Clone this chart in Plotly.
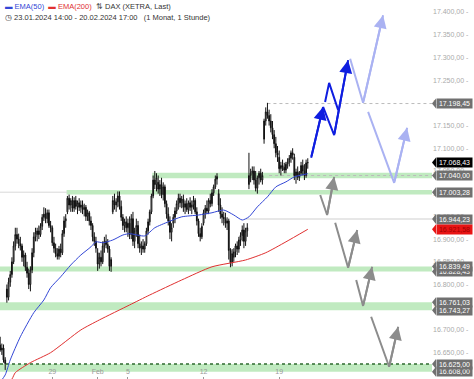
import plotly.graph_objects as go

# ---------------- data ----------------
open_ = [16667,16656,16660,16634,
16790,16772,16805,16822,16850,16885,16910,16900,16890,
16885,16860,16865,16838,16825,16800,16832,16870,16905,
16910,16918,16910,16928,16948,16955,16945,16958,16930,
16925,16892,16880,16868,16862,16878,16870,16912,16940,
16960,16990,16975,16985,16968,16985,16972,16980,16970,
16975,16965,16970,16950,16958,16940,16930,16905,16895,
16870,16845,16860,16850,16885,16895,16888,16878,16840,
16960,16985,16975,16982,16995,16972,16948,16930,16938,
16925,16935,16910,16945,16895,16918,16930,16890,16880,
16885,16878,16890,16918,16938,16960,16995,17030,17020,
17025,17010,17020,16998,17015,16978,16955,16940,16915,
16935,16948,16962,16978,16990,16980,16988,16970,16978,
16965,16980,16970,16975,16985,16960,16940,16912,16905,
16935,16958,16968,16962,16985,16978,17002,17015,17032,
17000,16975,16955,16948,16945,16935,16940,16875,16848,
16860,16872,16885,16878,16898,16908,16920,16895,16918,
17020,17040,17045,17050,17030,17012,17035,17045,17030,
17120,17160,17180,17172,17160,17145,17130,17110,17090,
17080,17055,17062,17058,17052,17065,17070,17078,17090,
17080,17040,17048,17036,17045,17062,17050,17040,17068]
high = [16685,16670,16668,16640,
16800,16815,16830,16860,16895,16925,16925,16912,16905,
16890,16875,16870,16850,16835,16840,16880,16915,16925,
16925,16930,16935,16955,16970,16968,16965,16965,16940,
16930,16905,16890,16880,16885,16890,16920,16950,16955,
16995,16998,16990,16995,16992,16995,16985,16990,16985,
16985,16978,16975,16965,16962,16950,16935,16915,16905,
16880,16870,16875,16895,16905,16910,16900,16885,16860,
16995,17000,16990,17005,17005,16985,16955,16945,16950,
16945,16950,16955,16960,16925,16945,16940,16910,16895,
16900,16895,16925,16945,16965,17000,17040,17050,17045,
17040,17030,17035,17025,17020,16985,16970,16950,16935,
16955,16970,16985,17000,17000,16995,16998,16985,16990,
16985,16992,16985,16995,16990,16970,16945,16925,16935,
16965,16975,16985,16990,17000,17010,17020,17040,17045,
17010,16990,16970,16960,16958,16948,16945,16880,16878,
16880,16890,16895,16905,16915,16930,16935,16925,16935,
17090,17055,17060,17060,17050,17040,17050,17055,17048,
17165,17190,17200,17185,17175,17160,17140,17125,17105,
17095,17070,17075,17068,17070,17078,17085,17095,17100,
17088,17055,17060,17050,17070,17075,17065,17075,17078]
low = [16652,16645,16628,16612,
16760,16765,16795,16815,16845,16875,16890,16880,16875,
16850,16840,16830,16815,16790,16785,16825,16860,16895,
16895,16900,16905,16920,16940,16935,16935,16925,16915,
16885,16870,16860,16855,16855,16860,16865,16905,16925,
16955,16965,16960,16960,16960,16965,16955,16962,16958,
16955,16950,16940,16940,16930,16920,16895,16885,16870,
16830,16835,16840,16845,16870,16880,16870,16830,16828,
16955,16965,16960,16970,16965,16940,16920,16915,16915,
16905,16900,16900,16885,16880,16905,16880,16870,16865,
16870,16870,16885,16910,16930,16955,16990,17010,17005,
17000,16995,16990,16985,16970,16945,16930,16900,16895,
16925,16935,16955,16965,16970,16968,16960,16955,16960,
16955,16962,16955,16965,16955,16930,16905,16895,16900,
16930,16945,16955,16955,16970,16972,16995,17010,17020,
16960,16945,16935,16930,16925,16920,16855,16838,16840,
16850,16860,16865,16870,16885,16895,16880,16885,16905,
17010,17025,17030,17020,17005,17000,17020,17025,17020,
17110,17150,17165,17150,17135,17120,17100,17080,17070,
17045,17040,17050,17045,17045,17055,17060,17068,17075,
17030,17022,17030,17028,17040,17040,17030,17035,17055]
close = [16656,16660,16634,16626,
16772,16805,16822,16850,16885,16910,16900,16890,16885,
16860,16865,16838,16825,16800,16832,16870,16905,16915,
16918,16910,16928,16948,16955,16945,16958,16930,16925,
16892,16880,16868,16862,16878,16870,16912,16940,16945,
16990,16975,16985,16968,16985,16972,16980,16970,16975,
16965,16970,16950,16958,16940,16930,16905,16895,16880,
16845,16860,16850,16885,16895,16888,16878,16840,16855,
16985,16975,16982,16995,16972,16948,16930,16938,16925,
16935,16910,16945,16895,16918,16930,16890,16880,16885,
16878,16890,16918,16938,16960,16995,17030,17020,17035,
17010,17020,16998,17015,16978,16955,16940,16915,16925,
16948,16962,16978,16990,16980,16988,16970,16978,16965,
16980,16970,16975,16985,16960,16940,16912,16905,16928,
16958,16968,16962,16985,16978,17002,17015,17032,17038,
16975,16955,16948,16945,16935,16940,16875,16848,16868,
16872,16885,16878,16898,16908,16920,16895,16918,16925,
17040,17045,17050,17030,17012,17035,17045,17030,17040,
17160,17180,17172,17160,17145,17130,17110,17090,17085,
17055,17062,17058,17052,17065,17070,17078,17090,17085,
17040,17048,17036,17045,17062,17050,17040,17068,17068.43]
candle_x = list(range(len(close)))

ema50_x = [0,3,6,12,20,26,30,36,42,48,54,57,61,67,73,77,86,92,100,108,118,126,133,139,144,148,153,159,164,170,175,183]
ema50_y = [16585,16601,16634,16685,16738,16766,16793,16817,16843,16865,16883,16894,16892,16898,16909,16912,16907,16925,16938,16949,16953,16958,16964,16953,16942,16949,16971,16993,17015,17026,17037,17044]
ema200_x = [0,7,9,18,30,48,59,77,89,108,126,146,158,170,183]
ema200_y = [16570,16592,16606,16628,16650,16700,16722,16755,16777,16810,16839,16854,16870,16894,16921.58]

tick_pos = [31, 58, 76, 121, 166]
tick_text = ["29", "Feb", "5", "12", "19"]
y_ticks = [16600 + 50 * i for i in range(17)]

# support / resistance levels
band_lo = [17034, 16998, 16828.43, 16743.27, 16608.0]
band_hi = [17046, 17008, 16839.49, 16761.03, 16625.0]
band_start = [91, 40, 0, 0, 0]

# projection paths (x = candle index, y = price)
dark_paths = [([185.0, 192.1], [17079, 17191]),
              ([192.1, 198.7, 207.0], [17191, 17129, 17294]),
              ([193.3, 195.7, 201.1], [17202, 17244, 17184])]
dark_arrow = [True, True, False]
light_paths = [([208.2, 215.9, 227.8], [17297, 17200, 17393]),
               ([218.9, 234.4, 242.1], [17180, 17024, 17145])]
grey_paths = [([190.4, 194.5, 198.7], [16997, 16953, 17037]),
              ([199.3, 207.0, 212.4], [16936, 16837, 16920]),
              ([211.8, 215.9, 221.3], [16810, 16753, 16839]),
              ([220.7, 231.4, 236.8], [16729, 16619, 16707])]

# right-side value labels: (value, text, bg, fg)
value_labels = [
    (16608.00, "16.608,00", "#707070", "white"),
    (16625.00, "16.625,00", "#707070", "white"),
    (16743.27, "16.743,27", "#707070", "white"),
    (16761.03, "16.761,03", "#707070", "white"),
    (16828.43, "16.828,43", "#707070", "white"),
    (16839.49, "16.839,49", "#707070", "white"),
    (16944.23, "16.944,23", "#707070", "white"),
    (16921.58, "16.921,58", "#e81414", "#a00000"),
    (17003.28, "17.003,28", "#707070", "white"),
    (17040.00, "17.040,00", "#707070", "white"),
    (17068.43, "17.068,43", "#000000", "white"),
    (17198.45, "17.198,45", "#707070", "white"),
]

X_MIN, X_MAX = -0.1, 256.9
Y_MIN, Y_MAX = 16592.0, 17426.4
FONT = "Liberation Sans, Arial, sans-serif"

fig = go.Figure()

# bands
shapes = []
for lo, hi, st in zip(band_lo, band_hi, band_start):
    shapes.append(dict(type="rect", xref="x", yref="y", x0=st - 0.5, x1=X_MAX, y0=lo, y1=hi,
                       fillcolor="rgba(150,220,150,0.6)", line=dict(width=0), layer="below"))
shapes.append(dict(type="line", xref="x", yref="y", x0=X_MIN, x1=40, y0=17003.28, y1=17003.28,
                   line=dict(color="#d8d8d8", width=1), layer="below"))
shapes.append(dict(type="line", xref="x", yref="y", x0=146, x1=X_MAX, y0=16944.23, y1=16944.23,
                   line=dict(color="#cfcfcf", width=1), layer="below"))
shapes.append(dict(type="line", xref="x", yref="y", x0=159, x1=X_MAX, y0=17198.45, y1=17198.45,
                   line=dict(color="#bbbbbb", width=1, dash="dot"), layer="below"))
shapes.append(dict(type="line", xref="x", yref="y", x0=160, x1=X_MAX, y0=17040, y1=17040,
                   line=dict(color="#bbbbbb", width=1, dash="dot"), layer="below"))
shapes.append(dict(type="line", xref="x", yref="y", x0=X_MIN, x1=X_MAX, y0=16625, y1=16625,
                   line=dict(color="#2f6b2f", width=1.5, dash="dot"), layer="below"))

# candles
fig.add_trace(go.Candlestick(
    x=candle_x, open=open_, high=high, low=low, close=close,
    increasing=dict(line=dict(color="#111111", width=1), fillcolor="#ffffff"),
    decreasing=dict(line=dict(color="#111111", width=1), fillcolor="#111111"),
    whiskerwidth=0, showlegend=False, hoverinfo="skip"))

fig.add_trace(go.Scatter(x=ema50_x, y=ema50_y, mode="lines", line=dict(color="#3347d6", width=1, shape="spline", smoothing=0.6),
                         showlegend=False, hoverinfo="skip"))
fig.add_trace(go.Scatter(x=ema200_x, y=ema200_y, mode="lines", line=dict(color="#e03030", width=1, shape="spline", smoothing=0.6),
                         showlegend=False, hoverinfo="skip"))

annotations = []

def add_path(px, py, color, arrow=True):
    fig.add_trace(go.Scatter(x=px, y=py, mode="lines", line=dict(color=color, width=2),
                             showlegend=False, hoverinfo="skip"))
    if arrow:
        annotations.append(dict(x=px[-1], y=py[-1], ax=px[-2], ay=py[-2], xref="x", yref="y",
                                axref="x", ayref="y", showarrow=True, arrowhead=2, arrowsize=1.3,
                                arrowwidth=2, arrowcolor=color, text=""))

for (px, py) in grey_paths:
    add_path(px, py, "#8c8c8c")
for (px, py) in light_paths:
    add_path(px, py, "#aab2f2")
for (px, py), a in zip(dark_paths, dark_arrow):
    add_path(px, py, "#0f1ee0", a)

# right-side value boxes
tri_w = 4 / 432
half = 5 / 0.4543
for v, t, bg, fg in value_labels:
    shapes.append(dict(type="path", xref="paper", yref="y",
                       path=f"M 1,{v} L {1 + tri_w},{v + half} L {1 + tri_w},{v - half} Z",
                       fillcolor=bg, line=dict(width=0), layer="above"))
    annotations.append(dict(x=1, y=v, xref="paper", yref="y", xanchor="left", yanchor="middle",
                            xshift=4, text=t, showarrow=False, bgcolor=bg, borderpad=1, width=33,
                            font=dict(family=FONT, size=7, color=fg)))

# header
annotations.append(dict(x=0.008, y=0.984, xref="paper", yref="paper", xanchor="left", yanchor="middle",
                        showarrow=False, align="left",
                        text="<span style='color:#3347d6'>▬ EMA(50)</span>  <span style='color:#e03030'>▬ EMA(200)</span>  "
                             "<span style='color:#555'>⇅</span> DAX (XETRA, Last)",
                        font=dict(family=FONT, size=7.5, color="#333333")))
annotations.append(dict(x=0.008, y=0.955, xref="paper", yref="paper", xanchor="left", yanchor="middle",
                        showarrow=False, align="left",
                        text="◷ 23.01.2024 14:00 - 20.02.2024 17:00   (1 Monat, 1 Stunde)",
                        font=dict(family=FONT, size=7.5, color="#333333")))

fig.update_layout(
    width=474, height=379, margin=dict(l=0, r=42, t=0, b=0),
    paper_bgcolor="white", plot_bgcolor="white",
    shapes=shapes, annotations=annotations, showlegend=False,
    xaxis=dict(range=[X_MIN, X_MAX], rangeslider=dict(visible=False), showgrid=False, zeroline=False,
               tickmode="array", tickvals=tick_pos, ticktext=tick_text, ticklabelposition="inside",
               ticks="inside", ticklen=2, tickcolor="#999999",
               tickfont=dict(family=FONT, size=7, color="#999999"), showline=False),
    yaxis=dict(range=[Y_MIN, Y_MAX], side="right", showgrid=False, zeroline=False,
               tickmode="array", tickvals=y_ticks,
               ticktext=[f"{v // 1000}.{v % 1000:03d},00 -" for v in y_ticks],
               ticks="", tickfont=dict(family=FONT, size=7, color="#aaaaaa"), showline=False),
)

fig.write_html("out.html", config={"displayModeBar": False},
               post_script="document.body.style.margin='0px';document.body.style.overflow='hidden';")
